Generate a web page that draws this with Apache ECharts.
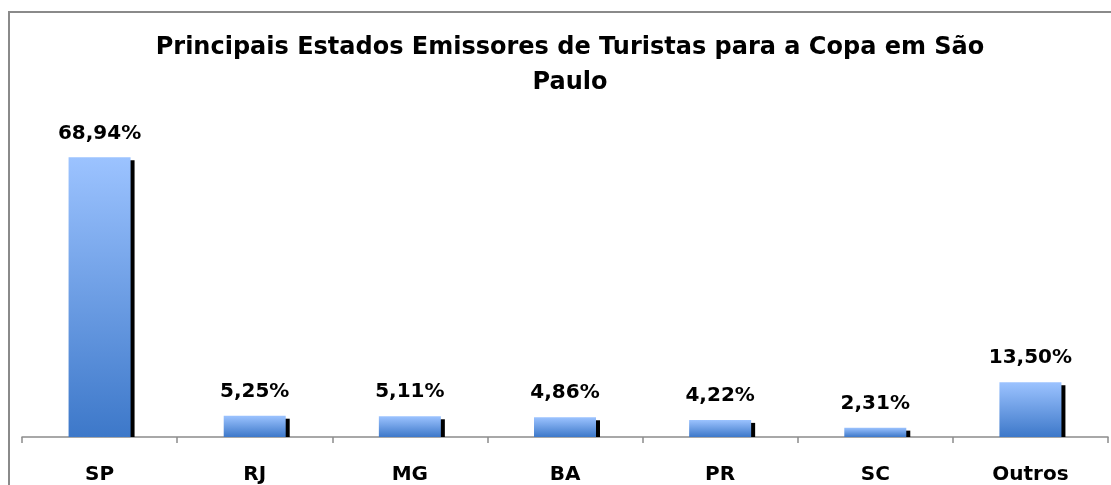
<!DOCTYPE html>
<html>
<head>
<meta charset="utf-8">
<script src="https://cdn.jsdelivr.net/npm/echarts@6/dist/echarts.min.js"></script>
<style>
html,body{margin:0;padding:0;background:#fff;}
#c{width:1111px;height:485px;}
</style>
</head>
<body>
<div id="c"></div>
<script>
const categories = ['SP', 'RJ', 'MG', 'BA', 'PR', 'SC', 'Outros'];
const values = [68.94, 5.25, 5.11, 4.86, 4.22, 2.31, 13.50];
const titleText = 'Principais Estados Emissores de Turistas para a Copa em São\nPaulo';

const FONT = 'DejaVu Sans';
const BAR_W = 62;

const chart = echarts.init(document.getElementById('c'), null, {renderer: 'canvas'});
chart.setOption({
  animation: false,
  backgroundColor: '#ffffff',
  title: {
    text: titleText,
    left: 565,
    textAlign: 'center',
    top: 25,
    textStyle: {fontFamily: FONT, fontWeight: 'bold', fontSize: 24, color: '#000', lineHeight: 35}
  },
  graphic: [{
    type: 'rect', z: 100,
    shape: {x: 9, y: 12, width: 1200, height: 600},
    style: {fill: 'none', stroke: '#8a8a8a', lineWidth: 2}
  }],
  grid: {left: 22, right: 3, top: 153, bottom: 47, containLabel: false},
  xAxis: {
    type: 'category',
    data: categories,
    boundaryGap: true,
    axisLine: {lineStyle: {color: '#8c8c8c', width: 1.5}},
    axisTick: {show: true, length: 6, lineStyle: {color: '#8c8c8c', width: 1.5}},
    axisLabel: {fontFamily: FONT, fontWeight: 'bold', fontSize: 20, color: '#000', margin: 28}
  },
  yAxis: {
    type: 'value', min: 0, max: 70,
    show: false, splitLine: {show: false}
  },
  series: [{
    type: 'custom',
    z: 1,
    data: values.map((v, i) => [i, v]),
    renderItem: function (params, api) {
      const top = api.coord([api.value(0), api.value(1)]);
      const base = api.coord([api.value(0), 0]);
      return {
        type: 'rect',
        shape: {x: top[0] + BAR_W / 2 - 1, y: top[1] + 3, width: 5, height: base[1] - top[1] - 3},
        style: {fill: '#000'}
      };
    }
  }, {
    type: 'bar',
    z: 2,
    data: values,
    barWidth: BAR_W,
    itemStyle: {
      color: new echarts.graphic.LinearGradient(0, 0, 0, 1, [
        {offset: 0, color: '#9cc3ff'},
        {offset: 1, color: '#3d78c9'}
      ])
    },
    label: {
      show: true,
      position: 'top',
      distance: 14,
      fontFamily: FONT, fontWeight: 'bold', fontSize: 20, color: '#000',
      formatter: p => p.value.toFixed(2).replace('.', ',') + '%'
    }
  }]
});
</script>
</body>
</html>
